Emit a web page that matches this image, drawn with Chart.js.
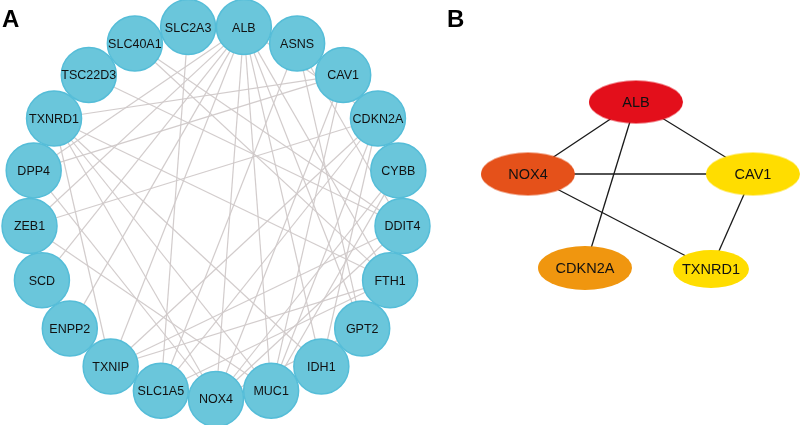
<!DOCTYPE html>
<html>
<head>
<meta charset="utf-8">
<script src="https://cdn.jsdelivr.net/npm/chart.js@4"></script>
<style>
  html, body { margin: 0; padding: 0; background: #ffffff; }
  #wrap { position: relative; width: 800px; height: 425px; }
  canvas { display: block; }
</style>
</head>
<body>
<div id="wrap"><canvas id="c" width="800" height="425"></canvas></div>
<script>
// ---------- DATA ----------
// Panel A: genes placed around the circle (starting at the bottom, clockwise on screen)
const genesA = ["NOX4","SLC1A5","TXNIP","ENPP2","SCD","ZEB1","DPP4","TXNRD1","TSC22D3","SLC40A1",
                "SLC2A3","ALB","ASNS","CAV1","CDKN2A","CYBB","DDIT4","FTH1","GPT2","IDH1","MUC1"];
// Panel A: interactions (PPI edges)
const edgesA = [
  ["ALB","NOX4"],["ALB","MUC1"],["ALB","CAV1"],["ALB","CDKN2A"],["ALB","ENPP2"],["ALB","SCD"],
  ["ALB","ZEB1"],["ALB","DPP4"],["ALB","GPT2"],["ALB","FTH1"],["ALB","IDH1"],["ALB","TXNIP"],
  ["NOX4","CAV1"],["NOX4","TXNRD1"],["NOX4","CYBB"],["NOX4","DDIT4"],["NOX4","GPT2"],["NOX4","DPP4"],
  ["CDKN2A","ZEB1"],["CDKN2A","IDH1"],["CDKN2A","MUC1"],["CDKN2A","SLC1A5"],["CDKN2A","TXNIP"],
  ["CAV1","TXNRD1"],["CAV1","DPP4"],["CAV1","MUC1"],
  ["TXNRD1","TXNIP"],["TXNRD1","FTH1"],["TXNRD1","MUC1"],["TXNRD1","IDH1"],
  ["SLC2A3","SLC1A5"],["SLC40A1","DDIT4"],["SLC40A1","FTH1"],["TSC22D3","DDIT4"],
  ["TXNIP","DDIT4"],["TXNIP","FTH1"],["SLC1A5","ASNS"],["SLC1A5","FTH1"],
  ["ASNS","GPT2"],["ASNS","DDIT4"],["MUC1","CYBB"],["ZEB1","MUC1"]
];
// Panel B: hub genes, their rank colour and edges
const genesB  = ["ALB","NOX4","CAV1","CDKN2A","TXNRD1"];
const colorsB = ["#E30F1B","#E5511A","#FFDD00","#F0960F","#FFDD00"];
const edgesB  = [["ALB","NOX4"],["ALB","CAV1"],["ALB","CDKN2A"],["NOX4","CAV1"],["NOX4","TXNRD1"],["CAV1","TXNRD1"]];

// ---------- LAYOUT (not data) ----------
const A_CX = 216, A_CY = 212, A_R = 187;        // circle layout of panel A
const posB = { ALB:[636,102], NOX4:[528,174], CAV1:[753,174], CDKN2A:[585,268], TXNRD1:[711,269] };
const sizeB = { ALB:[94,43], NOX4:[94,43], CAV1:[94,43], CDKN2A:[94,44], TXNRD1:[76,38] };

const posA = {};
genesA.forEach((g, k) => {
  const t = (90 + k * 360 / genesA.length) * Math.PI / 180;
  posA[g] = [A_CX + A_R * Math.cos(t), A_CY + A_R * Math.sin(t)];
});

function ellipseImg(w, h, color) {
  const cv = document.createElement('canvas');
  cv.width = w + 2; cv.height = h + 2;
  const x = cv.getContext('2d');
  x.fillStyle = color;
  x.beginPath();
  x.ellipse(cv.width / 2, cv.height / 2, w / 2, h / 2, 0, 0, Math.PI * 2);
  x.fill();
  return cv;
}

const datasets = [];
edgesA.forEach(([a, b]) => datasets.push({
  type: 'line', order: 5, clip: false,
  data: [{x: posA[a][0], y: posA[a][1]}, {x: posA[b][0], y: posA[b][1]}],
  borderColor: 'rgba(208,201,201,0.95)', borderWidth: 1.2, pointRadius: 0, fill: false, tension: 0
}));
edgesB.forEach(([a, b]) => datasets.push({
  type: 'line', order: 5, clip: false,
  data: [{x: posB[a][0], y: posB[a][1]}, {x: posB[b][0], y: posB[b][1]}],
  borderColor: '#1a1a1a', borderWidth: 1.3, pointRadius: 0, fill: false, tension: 0
}));
datasets.push({
  type: 'scatter', order: 1, label: 'nodesA', clip: false,
  data: genesA.map(g => ({x: posA[g][0], y: posA[g][1], name: g})),
  pointRadius: 27.5, pointHoverRadius: 27.5,
  backgroundColor: '#6AC6DB', borderColor: '#55BDD8', borderWidth: 1.5
});
datasets.push({
  type: 'scatter', order: 1, label: 'nodesB', clip: false,
  data: genesB.map(g => ({x: posB[g][0], y: posB[g][1], name: g})),
  pointStyle: genesB.map((g, i) => ellipseImg(sizeB[g][0], sizeB[g][1], colorsB[i])),
  pointRadius: 20
});

const labelPlugin = {
  id: 'nodeLabels',
  afterDatasetsDraw(chart) {
    const ctx = chart.ctx;
    ctx.save();
    ctx.fillStyle = '#111';
    ctx.textAlign = 'center';
    ctx.textBaseline = 'middle';
    chart.data.datasets.forEach((ds, i) => {
      if (ds.label !== 'nodesA' && ds.label !== 'nodesB') return;
      ctx.font = ds.label === 'nodesA' ? '12.5px "Liberation Sans", Arial, sans-serif'
                                       : '14.5px "Liberation Sans", Arial, sans-serif';
      chart.getDatasetMeta(i).data.forEach((el, j) => {
        ctx.fillText(ds.data[j].name, el.x, el.y + 1);
      });
    });
    ctx.fillStyle = '#000';
    ctx.textAlign = 'left';
    ctx.textBaseline = 'alphabetic';
    ctx.font = 'bold 24px "Liberation Sans", Arial, sans-serif';
    ctx.fillText('A', 2, 27);
    ctx.fillText('B', 447, 27);
    ctx.restore();
  }
};

new Chart(document.getElementById('c'), {
  type: 'scatter',
  data: { datasets },
  options: {
    responsive: false, animation: false, devicePixelRatio: 1,
    layout: { padding: 0, autoPadding: false },
    plugins: { legend: { display: false }, tooltip: { enabled: false } },
    events: [],
    scales: {
      x: { type: 'linear', min: 0, max: 800, display: false },
      y: { type: 'linear', min: 0, max: 425, reverse: true, display: false }
    }
  },
  plugins: [labelPlugin]
});
</script>
</body>
</html>
